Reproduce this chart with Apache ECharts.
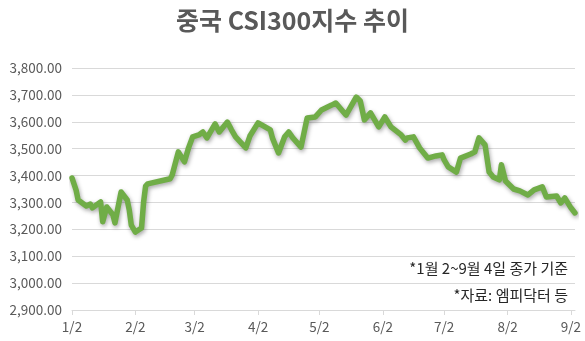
<!DOCTYPE html>
<html><head><meta charset="utf-8">
<script src="https://cdn.jsdelivr.net/npm/echarts@6/dist/echarts.min.js"></script>
<style>html,body{margin:0;padding:0;background:#fff}#c{width:585px;height:341px}</style>
</head><body><div id="c"></div>
<script>
const titleText = '중국 CSI300지수 추이';
const notes = ['*1월 2~9월 4일 종가 기준', '*자료: 엠피닥터 등'];
const dates = ['2024-01-02','2024-01-04','2024-01-05','2024-01-09','2024-01-11','2024-01-12','2024-01-16','2024-01-17','2024-01-19','2024-01-22','2024-01-23','2024-01-26','2024-01-29','2024-01-30','2024-01-31','2024-02-02','2024-02-05','2024-02-06','2024-02-07','2024-02-08','2024-02-19','2024-02-20','2024-02-23','2024-02-26','2024-02-28','2024-03-01','2024-03-04','2024-03-06','2024-03-08','2024-03-12','2024-03-14','2024-03-18','2024-03-20','2024-03-22','2024-03-27','2024-03-29','2024-04-02','2024-04-08','2024-04-09','2024-04-12','2024-04-15','2024-04-17','2024-04-19','2024-04-23','2024-04-26','2024-04-30','2024-05-03','2024-05-08','2024-05-10','2024-05-15','2024-05-20','2024-05-22','2024-05-24','2024-05-27','2024-05-31','2024-06-03','2024-06-06','2024-06-11','2024-06-13','2024-06-14','2024-06-17','2024-06-20','2024-06-24','2024-06-28','2024-07-01','2024-07-02','2024-07-04','2024-07-08','2024-07-10','2024-07-15','2024-07-17','2024-07-19','2024-07-22','2024-07-24','2024-07-26','2024-07-29','2024-07-30','2024-08-01','2024-08-05','2024-08-08','2024-08-12','2024-08-15','2024-08-19','2024-08-21','2024-08-26','2024-08-28','2024-08-30','2024-09-02','2024-09-04'];
const values = [3391,3346,3309,3287,3294,3280,3302,3228,3283,3254,3224,3339,3309,3272,3216,3190,3205,3300,3361,3369,3388,3402,3488,3451,3503,3544,3551,3562,3540,3592,3562,3599,3570,3544,3503,3547,3596,3570,3540,3484,3544,3562,3540,3506,3614,3618,3644,3662,3670,3625,3692,3677,3607,3633,3581,3618,3581,3551,3532,3540,3544,3503,3465,3473,3477,3458,3432,3413,3465,3480,3488,3540,3514,3413,3395,3384,3440,3380,3350,3343,3328,3347,3358,3320,3324,3298,3317,3280,3261];
const tickDates = ['2024-01-02','2024-02-02','2024-03-02','2024-04-02','2024-05-02','2024-06-02','2024-07-02','2024-08-02','2024-09-02'];
const startDate = '2024-01-02', endDate = '2024-09-04';
const yMin = 2900, yMax = 3800, yStep = 100;

function day(s){const p=s.split('-').map(Number);return Math.round(Date.UTC(p[0],p[1]-1,p[2])/86400000);}
const d0 = day(startDate);
const off = s => day(s) - d0;
const tickOff = tickDates.map(off);
const tickLabel = {};
tickDates.forEach(s=>{const p=s.split('-').map(Number);tickLabel[off(s)]=p[1]+'/'+p[2];});
const chart = echarts.init(document.getElementById('c'), null, {renderer:'canvas'});
const font = '"Noto Sans CJK KR","Noto Sans",sans-serif';
chart.setOption({
  animation:false,
  backgroundColor:'#fff',
  title:{text:titleText,left:'center',top:3,textStyle:{fontFamily:font,fontWeight:'bold',fontSize:25,color:'#595959'}},
  grid:{left:72,right:10,top:68,bottom:31,containLabel:false},
  xAxis:{type:'value',min:0,max:off(endDate),
    axisLine:{lineStyle:{color:'#d9d9d9',width:1}},
    axisTick:{show:true,customValues:tickOff,length:5,lineStyle:{color:'#d9d9d9'}},
    splitLine:{show:false},
    axisLabel:{customValues:tickOff,color:'#595959',fontSize:13.5,fontFamily:font,margin:10,
      formatter:function(v){return tickLabel[Math.round(v)]||'';}}
  },
  yAxis:{type:'value',min:yMin,max:yMax,interval:yStep,
    axisLine:{show:false},axisTick:{show:false},
    splitLine:{lineStyle:{color:'#d9d9d9',width:1}},
    axisLabel:{color:'#595959',fontSize:13.5,fontFamily:font,margin:10,
      formatter:function(v){return v.toLocaleString('en-US',{minimumFractionDigits:2,maximumFractionDigits:2});}}
  },
  series:[{type:'line',data:dates.map((d,i)=>[off(d),values[i]]),showSymbol:false,
    lineStyle:{color:'#70AD47',width:5.5,shadowBlur:4,shadowColor:'rgba(0,0,0,0.35)',shadowOffsetX:1,shadowOffsetY:2,cap:'round',join:'round'}}],
  graphic:[
    {type:'text',right:17,top:261,style:{text:notes[0],font:'15px '+font,fill:'#262626',textAlign:'right'}},
    {type:'text',right:17,top:288,style:{text:notes[1],font:'15px '+font,fill:'#262626',textAlign:'right'}}
  ]
});
</script></body></html>
